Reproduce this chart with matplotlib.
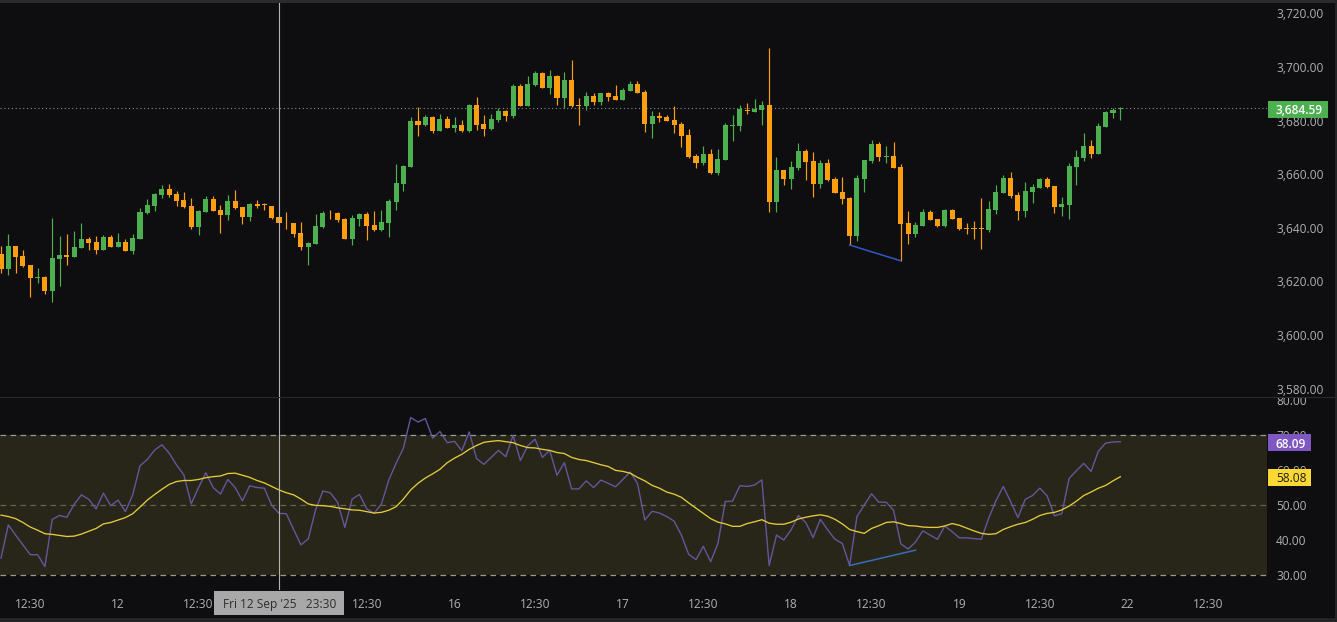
import matplotlib
matplotlib.use("Agg")
import matplotlib.pyplot as plt
from matplotlib.patches import Rectangle
from matplotlib.transforms import Bbox

plt.rcParams["font.family"] = ["Open Sans", "DejaVu Sans"]

W, H = 1337, 622
BG = "#0e0e10"
GREEN = "#4caf50"
ORANGE = "#ff9f10"

# ---- hourly candles ----
opens = [
    3630.4, 3624.7, 3633.3, 3629.5, 3626.2, 3621.4, 3621.7, 3616.5, 3628.4, 3629.9,
    3629.1, 3632.5, 3636.0, 3634.7, 3631.8, 3636.6, 3632.9, 3634.7, 3631.4, 3635.9,
    3645.6, 3648.2, 3652.3, 3654.5, 3652.6, 3650.4, 3648.2, 3640.3, 3645.9, 3650.8,
    3646.7, 3644.8, 3650.0, 3647.8, 3644.1, 3648.9, 3648.8, 3648.2, 3644.1, 3642.2,
    3641.8, 3638.1, 3632.9, 3634.0, 3640.3, 3645.3, 3645.6, 3643.3, 3635.9, 3643.3,
    3645.2, 3641.1, 3639.2, 3641.8, 3649.7, 3656.4, 3662.7, 3679.9, 3678.4, 3681.4,
    3676.2, 3680.6, 3677.3, 3678.4, 3676.2, 3685.9, 3678.8, 3676.9, 3680.3, 3683.6,
    3681.8, 3692.9, 3685.5, 3693.3, 3697.8, 3692.2, 3696.7, 3688.5, 3695.2, 3685.9,
    3685.5, 3689.2, 3687.0, 3690.3, 3689.2, 3687.7, 3691.1, 3693.7, 3690.7, 3678.8,
    3681.8, 3681.4, 3680.3, 3678.8, 3674.7, 3666.8, 3664.2, 3667.6, 3660.5, 3665.3,
    3678.0, 3678.0, 3684.0, 3683.2, 3684.0, 3685.9, 3649.7, 3661.6, 3658.2, 3662.4,
    3668.7, 3665.0, 3656.4, 3664.2, 3658.2, 3653.4, 3651.2, 3637.0, 3658.3, 3665.0,
    3671.3, 3666.5, 3666.8, 3662.7, 3641.8, 3637.7, 3640.7, 3645.9, 3643.3, 3640.7,
    3646.7, 3643.7, 3640.0, 3640.0, 3640.0, 3639.2, 3646.7, 3653.0, 3658.6, 3652.3,
    3646.3, 3653.4, 3654.9, 3658.3, 3655.6, 3647.8, 3648.5, 3662.7, 3666.1, 3670.6,
    3667.6, 3677.7, 3682.9, 3684.2,
]
closes = [
    3624.5, 3633.3, 3629.1, 3625.8, 3621.3, 3621.7, 3616.3, 3628.8, 3629.9, 3629.1,
    3632.9, 3635.9, 3634.4, 3631.8, 3636.6, 3632.9, 3634.7, 3631.4, 3636.2, 3645.9,
    3648.5, 3652.6, 3654.5, 3652.3, 3650.0, 3647.8, 3640.2, 3646.3, 3650.8, 3646.3,
    3644.8, 3650.0, 3647.4, 3644.1, 3648.9, 3648.2, 3648.4, 3643.7, 3641.8, 3642.0,
    3637.7, 3632.9, 3634.4, 3640.7, 3645.6, 3645.1, 3642.9, 3635.9, 3643.7, 3645.2,
    3640.7, 3639.2, 3642.2, 3650.0, 3656.8, 3663.1, 3679.9, 3678.4, 3681.4, 3676.2,
    3680.6, 3677.3, 3678.4, 3676.2, 3685.9, 3678.4, 3676.9, 3680.6, 3683.6, 3681.8,
    3692.9, 3685.5, 3693.7, 3697.8, 3692.2, 3696.7, 3688.5, 3695.2, 3685.5, 3685.5,
    3689.2, 3687.0, 3690.3, 3688.8, 3687.7, 3691.5, 3693.7, 3690.3, 3678.8, 3681.8,
    3681.0, 3679.9, 3678.4, 3674.3, 3666.5, 3664.2, 3667.6, 3660.5, 3665.7, 3678.4,
    3678.4, 3684.2, 3683.6, 3684.2, 3685.9, 3649.7, 3661.6, 3658.2, 3662.7, 3668.7,
    3664.6, 3656.4, 3664.2, 3657.9, 3653.0, 3650.8, 3637.0, 3658.6, 3665.3, 3671.3,
    3666.5, 3666.7, 3662.4, 3641.5, 3637.7, 3641.1, 3645.9, 3643.0, 3640.7, 3646.7,
    3643.3, 3639.6, 3639.7, 3639.7, 3639.7, 3647.1, 3653.4, 3658.6, 3651.9, 3646.3,
    3653.8, 3655.3, 3658.3, 3655.3, 3647.8, 3648.9, 3663.1, 3666.5, 3670.6, 3667.6,
    3678.0, 3683.3, 3684.0, 3684.59,
]
highs = [
    3633.3, 3637.7, 3633.3, 3631.8, 3626.2, 3625.0, 3622.1, 3643.6, 3637.0, 3637.7,
    3638.8, 3641.7, 3636.5, 3637.0, 3637.4, 3637.4, 3638.1, 3635.9, 3637.7, 3647.3,
    3650.7, 3653.0, 3656.0, 3656.4, 3653.6, 3653.4, 3651.2, 3646.7, 3651.9, 3651.9,
    3648.5, 3652.3, 3654.1, 3647.8, 3649.3, 3650.4, 3649.3, 3648.2, 3644.2, 3645.9,
    3641.8, 3642.2, 3634.7, 3645.2, 3646.2, 3646.7, 3645.9, 3643.7, 3644.8, 3645.6,
    3645.9, 3646.3, 3646.7, 3650.8, 3663.8, 3663.5, 3681.4, 3685.1, 3682.1, 3681.8,
    3682.5, 3681.8, 3681.4, 3680.3, 3686.2, 3688.8, 3682.1, 3682.5, 3684.7, 3684.0,
    3693.7, 3693.7, 3696.7, 3698.5, 3698.2, 3698.9, 3697.1, 3698.2, 3702.7, 3688.5,
    3690.7, 3690.3, 3690.3, 3690.7, 3693.3, 3692.2, 3694.8, 3694.8, 3691.5, 3683.6,
    3683.2, 3682.1, 3685.5, 3679.5, 3676.9, 3667.6, 3670.6, 3669.4, 3669.4, 3679.1,
    3682.1, 3685.9, 3686.6, 3688.1, 3687.4, 3707.1, 3666.5, 3661.6, 3665.0, 3671.7,
    3669.4, 3668.3, 3665.3, 3665.7, 3659.0, 3659.0, 3651.5, 3659.7, 3665.3, 3672.8,
    3672.1, 3670.6, 3672.1, 3663.9, 3646.3, 3642.2, 3647.1, 3646.7, 3643.3, 3647.1,
    3647.1, 3643.7, 3641.8, 3642.6, 3651.2, 3650.0, 3656.0, 3659.7, 3660.9, 3653.4,
    3657.1, 3656.4, 3658.6, 3659.0, 3655.6, 3651.5, 3664.2, 3669.1, 3675.4, 3672.8,
    3679.2, 3683.6, 3684.7, 3684.9,
]
lows = [
    3623.3, 3622.4, 3623.1, 3625.5, 3614.3, 3619.6, 3615.3, 3612.4, 3618.3, 3626.2,
    3629.1, 3632.5, 3631.8, 3630.3, 3631.8, 3632.9, 3632.9, 3631.4, 3630.3, 3635.9,
    3645.1, 3646.3, 3651.2, 3651.5, 3648.2, 3647.4, 3639.6, 3637.5, 3645.9, 3646.3,
    3638.1, 3643.0, 3647.05, 3641.5, 3642.6, 3647.4, 3646.7, 3643.3, 3641.8, 3639.6,
    3636.6, 3631.8, 3626.2, 3634.0, 3640.0, 3643.3, 3642.2, 3635.9, 3633.6, 3640.7,
    3635.5, 3638.8, 3638.8, 3636.6, 3646.7, 3653.8, 3662.7, 3674.3, 3678.0, 3675.4,
    3676.2, 3677.3, 3675.8, 3675.8, 3675.8, 3676.5, 3674.3, 3676.5, 3679.5, 3679.9,
    3681.0, 3685.5, 3685.5, 3692.9, 3692.2, 3690.0, 3685.9, 3684.7, 3685.1, 3678.4,
    3684.0, 3685.9, 3685.9, 3687.4, 3687.7, 3687.7, 3691.1, 3690.3, 3675.8, 3673.5,
    3679.5, 3679.9, 3675.4, 3670.2, 3666.1, 3662.4, 3663.5, 3660.1, 3659.7, 3665.3,
    3672.4, 3676.2, 3682.5, 3683.2, 3678.4, 3645.9, 3645.9, 3656.0, 3654.5, 3661.6,
    3657.9, 3651.5, 3654.9, 3657.5, 3653.0, 3648.9, 3633.6, 3635.1, 3653.4, 3664.2,
    3665.0, 3664.2, 3662.4, 3627.7, 3634.0, 3636.6, 3640.7, 3643.0, 3640.3, 3640.3,
    3643.3, 3639.2, 3637.7, 3635.9, 3632.1, 3638.5, 3645.2, 3653.0, 3651.2, 3643.0,
    3644.1, 3649.3, 3654.9, 3654.9, 3645.6, 3644.4, 3643.3, 3656.0, 3665.0, 3666.1,
    3667.6, 3677.7, 3681.0, 3680.3,
]

# ---- RSI pane ----
rsi = [
    34.8, 44.3, 41.4, 38.6, 35.8, 35.8, 32.4, 45.9, 47.0, 46.5,
    50.2, 52.9, 51.6, 48.9, 53.4, 49.8, 51.4, 48.1, 52.9, 61.2,
    63.0, 65.7, 67.2, 64.8, 61.4, 58.6, 50.3, 55.0, 59.2, 55.0,
    53.1, 57.3, 55.0, 51.2, 55.5, 55.0, 54.8, 49.9, 47.6, 47.5,
    43.0, 38.6, 40.3, 48.6, 54.0, 53.5, 50.8, 43.6, 51.7, 53.0,
    48.9, 47.6, 50.3, 57.1, 61.9, 66.2, 75.0, 73.7, 74.7, 69.1,
    71.0, 67.8, 68.2, 65.5, 70.9, 63.3, 61.6, 63.6, 65.6, 63.8,
    69.9, 62.7, 66.9, 68.8, 63.6, 65.6, 58.5, 62.1, 54.6, 54.6,
    56.9, 55.0, 57.1, 56.2, 55.2, 57.3, 59.4, 56.2, 45.7, 48.2,
    47.7, 46.7, 45.4, 41.4, 35.9, 34.4, 38.2, 33.8, 39.0, 51.0,
    51.1, 55.5, 55.3, 55.7, 57.2, 32.7, 41.4, 40.0, 42.9, 47.0,
    45.0, 40.7, 45.9, 42.9, 40.2, 39.0, 32.7, 46.7, 50.0, 53.2,
    50.8, 50.8, 48.5, 38.9, 37.4, 39.4, 42.6, 41.4, 40.2, 44.0,
    42.4, 40.6, 40.6, 40.4, 40.2, 46.2, 51.2, 55.3, 51.0, 46.4,
    51.6, 52.7, 54.8, 52.6, 46.9, 47.5, 57.6, 59.8, 61.9, 59.6,
    65.4, 67.7, 68.0, 68.09,
]
rsi_ma = [
    47.1, 46.7, 46.1, 45.0, 43.7, 42.8, 41.8, 41.6, 41.3, 41.0,
    41.1, 41.7, 42.5, 43.3, 44.6, 45.0, 45.7, 46.4, 47.5, 49.4,
    51.4, 53.0, 54.5, 55.9, 56.7, 57.0, 57.0, 57.3, 57.8, 58.1,
    58.3, 59.0, 59.1, 58.5, 57.9, 57.0, 56.3, 55.3, 54.3, 53.5,
    52.9, 51.7, 50.3, 49.9, 49.8, 49.6, 49.2, 48.9, 48.6, 48.5,
    48.1, 47.7, 47.9, 48.5, 49.5, 51.7, 54.3, 56.2, 57.7, 58.9,
    60.2, 62.1, 63.4, 64.5, 65.9, 67.0, 67.9, 68.2, 68.4, 68.1,
    67.8, 67.0, 66.4, 66.3, 65.9, 65.6, 65.0, 64.7, 63.6, 63.0,
    62.7, 62.1, 61.5, 61.0, 59.9, 59.6, 59.1, 57.9, 56.9, 55.6,
    54.8, 53.7, 53.1, 52.2, 50.6, 49.1, 47.6, 46.1, 45.1, 44.6,
    43.9, 43.9, 44.7, 45.2, 45.8, 44.8, 44.5, 44.5, 45.1, 46.0,
    46.5, 46.9, 47.2, 46.8, 45.9, 44.6, 43.0, 42.4, 41.9, 43.3,
    44.1, 45.0, 45.2, 44.7, 44.1, 44.0, 43.7, 43.6, 43.6, 44.0,
    44.7, 44.2, 43.4, 42.6, 41.9, 41.6, 41.8, 43.0, 43.8, 44.5,
    45.0, 45.9, 47.0, 47.6, 47.9, 48.6, 49.7, 51.1, 52.7, 53.7,
    54.8, 55.6, 56.9, 58.08,
]
assert len(opens) == len(closes) == len(highs) == len(lows) == len(rsi) == len(rsi_ma) == 154

price_ticks = [3580, 3600, 3620, 3640, 3660, 3680, 3700, 3720]
rsi_ticks = [30, 40, 50, 60, 70, 80]
time_pos = [4, 16, 27, 50, 62, 73, 85, 96, 108, 119, 131, 142, 154, 165]
time_labels = ["12:30", "12", "12:30", "12:30", "16", "12:30", "17", "12:30",
               "18", "12:30", "19", "12:30", "22", "12:30"]
last_price = 3684.59
cursor_bar = 37.94

# bar i sits at 1 + 7.316*i px, so these limits fill the 1267 px plot width
XLIM = (-0.137, 173.05)


def px_rect(x0, y0, x1, y1):
    return [x0 / W, 1 - y1 / H, (x1 - x0) / W, (y1 - y0) / H]


def style_axis(ax):
    ax.set_facecolor(BG)
    ax.set_xlim(*XLIM)
    ax.yaxis.tick_right()
    ax.tick_params(axis="both", length=0, colors="#b0b0b0", labelsize=8.6)
    ax.tick_params(axis="y", pad=6.5)
    for s in ax.spines.values():
        s.set_visible(False)


fig = plt.figure(figsize=(W / 100, H / 100), dpi=100, facecolor=BG)
ax = fig.add_axes(px_rect(0, 0, 1267, 397))
ax2 = fig.add_axes(px_rect(0, 397, 1267, 590))
style_axis(ax)
style_axis(ax2)

# ---- price pane ----
ax.set_ylim(3576.9, 3725.0)
bars = range(len(opens))
colors = [GREEN if c >= o else ORANGE for o, c in zip(opens, closes)]
ax.vlines(bars, lows, highs, colors=colors, lw=0.85, zorder=3)
ax.bar(bars, [abs(c - o) for o, c in zip(opens, closes)],
       bottom=[min(o, c) for o, c in zip(opens, closes)],
       width=0.69, color=colors, linewidth=0, zorder=4)
ax.axhline(last_price, color="#7f8f7f", lw=0.8, ls=(0, (1, 2.4)), zorder=2)
ax.plot([116, 123], [lows[116], lows[123]], color="#2f5ac0", lw=1.1, zorder=5)
ax.set_yticks(price_ticks)
ax.set_yticklabels([f"{p:,.2f}" for p in price_ticks])
ax.set_xticks([])

# ---- RSI pane ----
ax2.set_ylim(25.71, 80.86)
ax2.axhspan(30, 70, facecolor="#282618", edgecolor="none", zorder=1)
for level, col in ((70, "#9a9a90"), (50, "#66644f"), (30, "#9a9a90")):
    ax2.axhline(level, color=col, lw=0.9, ls=(0, (4.5, 3.5)), zorder=2)
ax2.plot(bars, rsi, color="#64569c", lw=1.0, zorder=3)
ax2.plot(bars, rsi_ma, color="#e3cb3c", lw=0.95, zorder=4)
ax2.plot([116, 125], [rsi[116], 37.1], color="#3a6db8", lw=1.1, zorder=5)
ax2.set_yticks(rsi_ticks)
ax2.set_yticklabels([f"{v:.2f}" for v in rsi_ticks])
ax2.set_xticks(time_pos)
ax2.set_xticklabels(time_labels)
ax2.tick_params(axis="x", pad=6)

# the top RSI label is cut off by the pane edge
for label in ax2.get_yticklabels():
    label.set_clip_on(True)
    label.set_clip_box(Bbox.from_extents(0, 0, W, H - 397))

# ---- crosshair ----
for a in (ax, ax2):
    a.axvline(cursor_bar, color="#b4b4b4", lw=0.8, zorder=6)

# ---- overlays in pixel positions ----
trans = fig.transFigure


def tag(x0, y0, x1, y1, col, text, txt_col, x_text, size=8.6, weight="normal"):
    fig.patches.append(Rectangle((x0 / W, 1 - y1 / H), (x1 - x0) / W, (y1 - y0) / H,
                                 transform=trans, facecolor=col, edgecolor="none",
                                 figure=fig, zorder=5))
    fig.text(x_text / W, 1 - (y0 + y1) / 2 / H, text, color=txt_col, fontsize=size,
             weight=weight, ha="left", va="center_baseline", zorder=6)


tag(1268, 101, 1328, 118, "#4caf50", "3,684.59", "#ffffff", 1276, weight="semibold")
tag(1268, 434, 1311, 451, "#7e57c2", "68.09", "#ffffff", 1276, weight="semibold")
tag(1268, 469, 1311, 486, "#fdd835", "58.08", "#1c1c1c", 1276)
tag(214, 591, 344, 615, "#a8a8a8", "Fri 12 Sep '25   23:30", "#2e2e2e", 223)

# pane separator and window edges
for x0, y0, x1, y1, col in ((0, 397, W, 398, "#2a2a2d"), (0, 0, W, 3, "#2b2b2b"),
                            (0, 618, W, H, "#242426"), (1335, 0, W, H, "#242426")):
    fig.patches.append(Rectangle((x0 / W, 1 - y1 / H), (x1 - x0) / W, (y1 - y0) / H,
                                 transform=trans, facecolor=col, edgecolor="none",
                                 figure=fig, zorder=7))

fig.savefig("out.png", dpi=100, facecolor=BG)
